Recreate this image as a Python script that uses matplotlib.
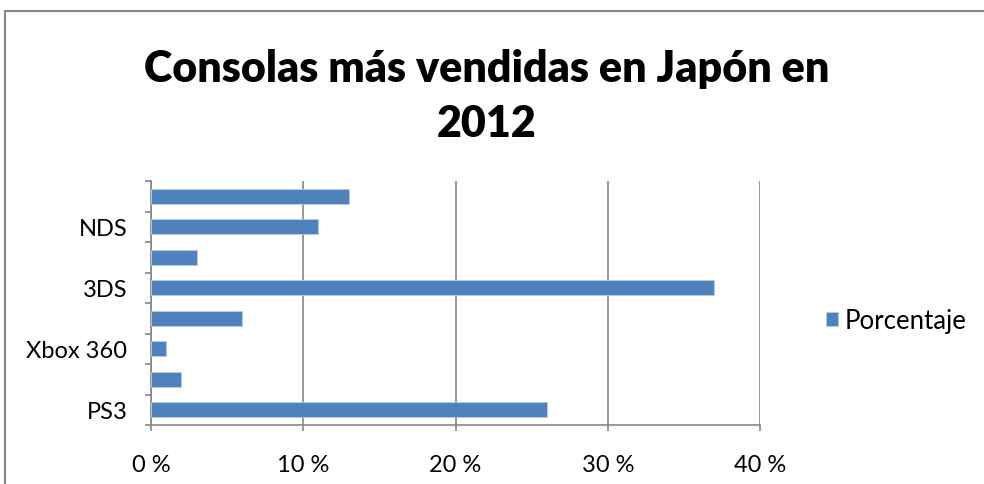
import numpy as np
import matplotlib.pyplot as plt
from matplotlib.lines import Line2D

# Datos (porcentaje de ventas por consola)
consolas = ["PS3", "Wii", "Xbox 360", "PS Vita", "3DS", "Wii U", "NDS", "PSP"]
porcentaje = [26, 2, 1, 6, 37, 3, 11, 13]
xticks = [0, 10, 20, 30, 40]
xtick_labels = ["0 %", "10 %", "20 %", "30 %", "40 %"]

plt.rcParams['font.family'] = ['Lato', 'DejaVu Sans']

W, H = 984, 485
fig = plt.figure(figsize=(W / 100, H / 100), dpi=100)
ax = fig.add_axes([151 / W, 1 - 426 / H, (760 - 151) / W, (426 - 182) / H])

grey = '#868686'
y = np.arange(len(consolas))
ax.barh(y, porcentaje, height=0.5, color='#4F81BD', edgecolor='#B9CDE5',
        linewidth=0.6, label='Porcentaje', zorder=3)

ax.set_xlim(0, 40)
ax.set_ylim(-0.5, len(consolas) - 0.5)
ax.set_xticks(xticks)
ax.set_xticklabels(xtick_labels, fontsize=17)
ax.grid(axis='x', color=grey, linewidth=1.2, zorder=0)

# marcas en los limites de categoria, etiquetas alternas como en Excel
ax.set_yticks(np.arange(len(consolas) + 1) - 0.5)
ax.set_yticklabels([])
ax.set_yticks(y[::2], minor=True)
ax.set_yticklabels(consolas[::2], minor=True, fontsize=17)
ax.tick_params(axis='y', which='major', length=4, color=grey, width=1.2)
ax.tick_params(axis='y', which='minor', length=0, pad=17)
ax.tick_params(axis='x', length=4, color=grey, width=1.2, pad=17)

for s in ['top', 'right']:
    ax.spines[s].set_visible(False)
for s in ['left', 'bottom']:
    ax.spines[s].set_color(grey)
    ax.spines[s].set_linewidth(1.2)

fig.text(487 / W, 1 - 69 / H, "Consolas más vendidas en Japón en",
         ha='center', va='center', fontsize=31, fontweight='heavy')
fig.text(487 / W, 1 - 124 / H, "2012",
         ha='center', va='center', fontsize=31, fontweight='heavy')

fig.legend(loc='center left', bbox_to_anchor=(826 / W, 1 - 322 / H),
           frameon=False, fontsize=18.5, handlelength=0.47, handleheight=0.47,
           handletextpad=0.25, borderaxespad=0, borderpad=0)

# borde del grafico (solo izquierda y arriba visibles)
bx, by = 5 / W, 1 - 12 / H
fig.lines.append(Line2D([bx, bx, 1.05], [-0.05, by, by], transform=fig.transFigure,
                        color=grey, linewidth=1.5, clip_on=False))

fig.savefig('out.png', dpi=100)
